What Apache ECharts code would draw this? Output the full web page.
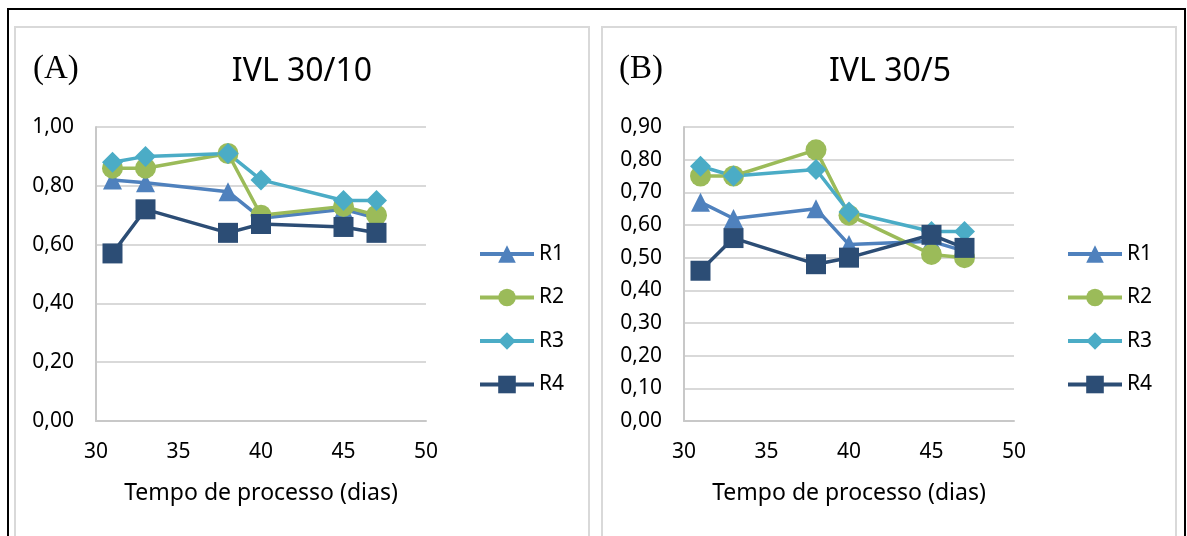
<!DOCTYPE html>
<html>
<head>
<meta charset="utf-8">
<script src="https://cdn.jsdelivr.net/npm/echarts@6/dist/echarts.min.js"></script>
<style>
html,body{margin:0;padding:0;background:#fff;}
#c{width:1187px;height:536px;}
</style>
</head>
<body>
<div id="c"></div>
<script>
// Data
const days = [31, 33, 38, 40, 45, 47];
const seriesNames = ['R1', 'R2', 'R3', 'R4'];
// Panel A: IVL 30/10
const A_R1 = [0.82, 0.81, 0.78, 0.69, 0.72, 0.69];
const A_R2 = [0.86, 0.86, 0.91, 0.70, 0.73, 0.70];
const A_R3 = [0.88, 0.90, 0.91, 0.82, 0.75, 0.75];
const A_R4 = [0.57, 0.72, 0.64, 0.67, 0.66, 0.64];
// Panel B: IVL 30/5
const B_R1 = [0.67, 0.62, 0.65, 0.54, 0.55, 0.52];
const B_R2 = [0.75, 0.75, 0.83, 0.63, 0.51, 0.50];
const B_R3 = [0.78, 0.75, 0.77, 0.64, 0.58, 0.58];
const B_R4 = [0.46, 0.56, 0.48, 0.50, 0.57, 0.53];
const panelTitles = ['IVL 30/10', 'IVL 30/5'];
const panelLetters = ['(A)', '(B)'];
const xTitle = 'Tempo de processo (dias)';

const colors = ['#4F81BD', '#9BBB59', '#4BACC6', '#2C4D75'];
const symbols = ['triangle', 'circle', 'diamond', 'rect'];
const symSizes = [19, 21, 21, 20];
const FONT = 'Noto Sans';

const chart = echarts.init(document.getElementById('c'), null, {renderer: 'canvas'});

const fmt = v => v.toFixed(2).replace('.', ',');
const panels = [
  {data: [A_R1, A_R2, A_R3, A_R4], max: 1.0, interval: 0.2, left: 96},
  {data: [B_R1, B_R2, B_R3, B_R4], max: 0.9, interval: 0.1, left: 684}
];

const grids = [], xAxes = [], yAxes = [], series = [], legends = [];
panels.forEach((p, i) => {
  grids.push({left: p.left, top: 127, width: 330, height: 294, containLabel: false});
  xAxes.push({
    type: 'value', gridIndex: i, min: 30, max: 50, interval: 5,
    axisLine: {show: true, lineStyle: {color: '#C8C8C8', width: 2}},
    axisTick: {show: false},
    splitLine: {show: false},
    axisLabel: {color: '#000', fontFamily: FONT, fontSize: 21, margin: 21},
    name: xTitle, nameLocation: 'middle', nameGap: 61,
    nameTextStyle: {color: '#000', fontFamily: FONT, fontSize: 23}
  });
  yAxes.push({
    type: 'value', gridIndex: i, min: 0, max: p.max, interval: p.interval,
    axisLine: {show: true, lineStyle: {color: '#C8C8C8', width: 2}},
    axisTick: {show: false},
    splitLine: {show: true, lineStyle: {color: '#D9D9D9', width: 2}},
    axisLabel: {color: '#000', fontFamily: FONT, fontSize: 21, margin: 22, formatter: fmt}
  });
  p.data.forEach((arr, k) => {
    series.push({
      name: seriesNames[k], type: 'line', xAxisIndex: i, yAxisIndex: i,
      data: days.map((d, j) => [d, arr[j]]),
      symbol: symbols[k], symbolSize: symSizes[k],
      lineStyle: {color: colors[k], width: 3.5},
      itemStyle: {color: colors[k]},
      animation: false
    });
  });
  legends.push({
    orient: 'vertical', left: p.left + 382, top: 243, padding: 0,
    itemWidth: 54, itemHeight: 22, itemGap: 21.5,
    data: seriesNames,
    lineStyle: {width: 4},
    textStyle: {color: '#000', fontFamily: FONT, fontSize: 21, lineHeight: 22}
  });
});

const graphic = [
  {type: 'rect', shape: {x: 8, y: 9, width: 1177, height: 600}, style: {fill: 'none', stroke: '#000', lineWidth: 2}, z: 0, silent: true},
  {type: 'rect', shape: {x: 15, y: 27, width: 574, height: 600}, style: {fill: 'none', stroke: '#D9D9D9', lineWidth: 2}, z: 0, silent: true},
  {type: 'rect', shape: {x: 602, y: 27, width: 574, height: 600}, style: {fill: 'none', stroke: '#D9D9D9', lineWidth: 2}, z: 0, silent: true}
];
[0, 1].forEach(i => {
  const off = i * 588;
  graphic.push({type: 'text', left: 33 + off - (i ? 2 : 0), top: 53, style: {text: panelLetters[i], font: '33px "Liberation Serif"', fill: '#000'}, z: 10});
  graphic.push({type: 'text', x: 302 + off, y: 72, style: {text: panelTitles[i], font: '32px "Noto Sans"', fill: '#000', textAlign: 'center', textVerticalAlign: 'middle'}, z: 10});
});

chart.setOption({
  backgroundColor: '#fff',
  animation: false,
  color: colors,
  grid: grids, xAxis: xAxes, yAxis: yAxes, series: series, legend: legends,
  graphic: graphic
});
</script>
</body>
</html>
